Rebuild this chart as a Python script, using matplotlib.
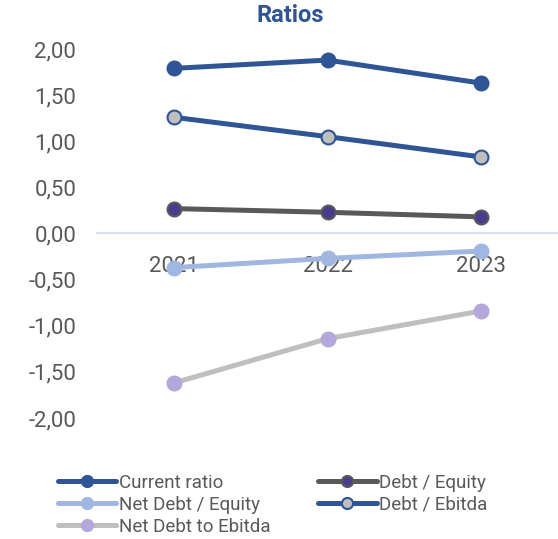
import matplotlib
matplotlib.use("Agg")
import matplotlib.pyplot as plt
from matplotlib.ticker import FuncFormatter

plt.rcParams['font.family'] = ['Roboto', 'DejaVu Sans']

years = ['2021', '2022', '2023']
current_ratio = [1.79, 1.88, 1.63]
debt_equity = [0.27, 0.23, 0.18]
net_debt_equity = [-0.37, -0.27, -0.19]
debt_ebitda = [1.26, 1.05, 0.83]
net_debt_ebitda = [-1.62, -1.14, -0.84]

# (label, values, line colour, marker face, marker edge)
series = [
    ('Current ratio', current_ratio, '#2F5597', '#2F5597', '#2F5597'),
    ('Debt / Equity', debt_equity, '#595959', '#4B3B8F', '#595959'),
    ('Net Debt / Equity', net_debt_equity, '#A0B7E1', '#A0B7E1', '#A0B7E1'),
    ('Debt / Ebitda', debt_ebitda, '#2F5597', '#BFBFBF', '#2F5597'),
    ('Net Debt to Ebitda', net_debt_ebitda, '#BFBFBF', '#B4A7DC', '#B4A7DC'),
]

fig = plt.figure(figsize=(5.58, 5.39), dpi=100)
ax = fig.add_axes([97/558, 1-418/539, 1-97/558, (418-49)/539])

x = list(range(len(years)))
handles = {}
for label, vals, lc, mf, me in series:
    h, = ax.plot(x, vals, color=lc, lw=3.6, marker='o', ms=10,
                 markerfacecolor=mf, markeredgecolor=me, markeredgewidth=1.5,
                 solid_capstyle='round', clip_on=False, label=label)
    handles[label] = h

ax.set_xlim(-0.5, 2.5)
ax.set_ylim(-2.0, 2.0)
ax.set_yticks([2, 1.5, 1, 0.5, 0, -0.5, -1, -1.5, -2])
ax.yaxis.set_major_formatter(FuncFormatter(lambda v, p: ('%.2f' % v).replace('.', ',')))
ax.set_xticks(x)
ax.set_xticklabels(years)

for s in ['top', 'right', 'left']:
    ax.spines[s].set_visible(False)
ax.spines['bottom'].set_position(('data', 0))
ax.spines['bottom'].set_color('#D9E2F3')
ax.spines['bottom'].set_linewidth(1.5)
ax.tick_params(axis='both', length=0, labelsize=16, colors='#595959')
ax.tick_params(axis='x', pad=16)
ax.tick_params(axis='y', pad=15)

fig.text(0.52, 0.972, 'Ratios', ha='center', va='center',
         fontsize=17, fontweight='bold', color='#2F5597')

order = ['Current ratio', 'Net Debt / Equity', 'Net Debt to Ebitda',
         'Debt / Equity', 'Debt / Ebitda']
leg = fig.legend([handles[k] for k in order], order, ncol=2,
                 loc='upper left', bbox_to_anchor=(0.104, 0.121),
                 frameon=False, fontsize=13.5, handlelength=3.1,
                 handletextpad=0.15, labelspacing=0.22, columnspacing=2.55,
                 markerscale=0.8, borderpad=0, borderaxespad=0)
for t in leg.get_texts():
    t.set_color('#595959')

fig.savefig('out.png', dpi=100)
